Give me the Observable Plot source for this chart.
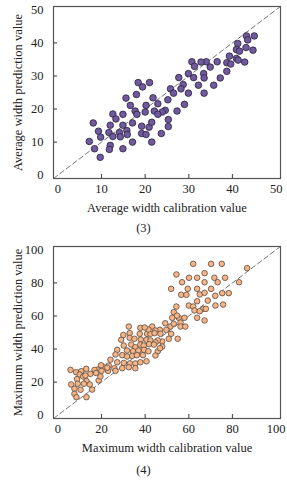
<!DOCTYPE html>
<html><head><meta charset="utf-8">
<script src="https://cdn.jsdelivr.net/npm/d3@7"></script>
<script src="https://cdn.jsdelivr.net/npm/@observablehq/plot@0.6"></script>
<style>
body{margin:0;background:#fff;font-family:"Liberation Serif","Times New Roman",serif;}
#wrap{position:relative;width:287px;height:480px;overflow:hidden;}
.panel{position:absolute;left:0;}
.cap{position:absolute;left:0;width:287px;text-align:center;font-size:12.5px;line-height:14px;color:#222;}
</style></head>
<body><div id="wrap"></div>
<script>
// (3) Average width
const avgCal  = [45.0,43.2,43.5,41.2,43.1,44.7,40.9,41.6,39.3,40.9,41.3,42.8,38.7,39.6,36.5,38.7,37.2,35.7,34.0,32.8,34.9,30.7,31.3,33.4,33.5,29.9,31.1,27.7,32.2,28.7,28.2,25.8,26.5,29.9,33.5,25.2,21.8,22.9,29.0,24.6,22.1,23.9,22.9,27.3,18.4,19.4,21.0,18.0,15.6,16.6,20.2,17.7,18.1,20.0,12.6,13.3,14.9,8.1,12.0,14.9,17.1,19.2,20.9,21.5,25.3,25.3,9.3,11.7,12.6,14.1,14.3,15.8,15.9,19.2,20.2,23.7,7.2,9.8,17.1,21.5,8.4,12.0,11.8,14.9,9.7];
const avgPred = [42.1,42.1,40.9,39.8,38.6,37.8,38.0,37.5,36.0,35.3,34.8,34.2,34.0,33.6,34.3,31.4,29.4,27.2,34.3,34.2,32.7,34.3,32.9,30.7,29.4,30.7,29.5,29.5,27.2,27.4,26.1,26.1,24.8,24.8,24.8,22.8,23.4,21.6,21.4,19.6,19.4,19.1,18.4,19.4,28.0,26.7,28.0,24.4,23.3,21.1,21.1,19.4,18.4,19.1,18.5,17.0,18.4,15.8,15.1,15.1,15.8,14.8,14.5,16.0,16.8,14.7,13.3,12.9,11.7,12.9,11.6,13.5,12.3,12.6,12.3,12.6,10.2,11.5,10.0,10.0,8.0,9.0,7.8,8.0,5.4];
const avgTicks = [0,10,20,30,40,50];

// (4) Maximum width
const maxCal  = [62.0,70.2,75.1,86.7,54.3,67.2,60.1,63.8,71.7,76.6,56.9,67.2,73.2,83.0,51.9,59.5,63.8,70.2,75.3,78.3,56.5,58.9,65.0,67.2,72.1,63.8,68.7,72.2,75.7,60.0,62.0,54.3,66.6,62.6,65.0,67.8,53.1,52.4,55.4,58.0,63.8,67.2,56.2,51.6,56.2,58.4,49.7,46.7,50.8,54.9,43.2,44.7,54.6,49.2,53.1,51.9,47.0,47.8,47.8,
  37.8,32.9,37.5,40.9,42.4,44.3,41.5,45.8,32.9,35.1,38.0,40.6,42.4,44.7,29.0,30.2,33.6,35.5,37.8,39.3,41.8,44.0,27.2,31.7,34.4,36.9,39.5,41.5,45.8,46.8,44.7,26.4,29.5,31.7,34.1,36.2,39.0,40.6,24.1,27.2,30.2,33.0,35.5,37.8,23.3,21.0,25.9,29.5,32.5,35.5,18.4,20.0,23.0,26.4,32.5,30.0,39.8,
  5.8,8.4,10.7,13.0,10.0,11.6,8.8,14.9,16.8,19.8,22.6,18.7,19.5,13.1,6.1,9.1,11.9,14.6,7.6,10.4,15.7,7.6,8.5,13.1,12.6,17.5];
const maxPred = [91.5,91.5,91.5,88.9,85.1,85.9,83.1,83.1,83.1,83.1,80.4,80.4,80.4,80.4,76.4,76.4,76.4,76.4,73.8,73.8,72.8,72.8,73.0,74.0,72.2,68.9,69.3,66.3,66.9,66.3,65.7,65.7,64.3,63.3,62.9,64.3,62.3,58.9,58.9,58.9,58.9,57.3,56.0,53.6,53.6,53.6,51.6,51.6,46.2,46.2,53.6,51.2,60.2,55.6,55.3,49.2,49.2,44.6,41.5,
  52.8,49.6,49.2,49.2,49.2,49.6,51.8,45.2,46.8,46.2,45.8,45.6,45.2,44.0,45.6,42.1,42.7,41.1,42.7,42.1,43.0,42.7,39.5,39.1,38.7,39.1,39.5,38.7,38.7,40.5,36.1,36.7,36.3,35.5,35.9,36.3,36.3,32.6,33.5,32.0,31.6,31.3,31.3,32.0,30.0,29.0,28.4,28.4,29.0,28.4,27.6,26.8,26.8,26.8,53.6,48.5,53.0,
  27.4,26.0,26.6,28.0,24.6,23.4,21.8,25.0,27.4,30.2,28.7,21.0,23.4,20.6,18.6,19.0,19.0,18.6,16.0,15.4,15.5,12.9,10.9,10.9,24.0,25.5];
const maxTicks = [0,20,40,60,80,100];

function scatter({cal, pred, domain, ticks, xLabel, yLabel, fill, stroke, r}) {
  const idx = d3.range(cal.length);
  const [lo, hi] = domain;
  const tY = (hi - lo) * 4 / 171, tX = (hi - lo) * 4 / 227;
  const inner = ticks.slice(1, -1);
  return Plot.plot({
    width: 287, height: 217,
    marginLeft: 53, marginRight: 7, marginTop: 6, marginBottom: 39,
    style: {fontFamily: "'Liberation Serif','Times New Roman',serif", fontSize: "12px", color: "#222", background: "white"},
    x: {domain, ticks},
    y: {domain, ticks},
    marks: [
      Plot.line([[lo, lo], [hi, hi]], {stroke: "#777", strokeDasharray: "5,3", strokeWidth: 1}),
      Plot.dot(idx, {x: i => cal[i], y: i => pred[i], r, fill, stroke, strokeWidth: 0.8}),
      Plot.ruleX(inner, {y1: lo, y2: lo + tY, stroke: "#555", strokeWidth: 1.2}),
      Plot.ruleY(inner, {x1: lo, x2: lo + tX, stroke: "#555", strokeWidth: 1.2}),
      Plot.axisX({ticks, tickSize: 0, tickPadding: 6, label: xLabel, labelAnchor: "center", labelArrow: "none", labelOffset: 33, fontSize: 12.5}),
      Plot.axisY({ticks, tickSize: 0, tickPadding: 10, label: yLabel, labelAnchor: "center", labelArrow: "none", labelOffset: 40, fontSize: 12.5}),
      Plot.frame({stroke: "#555", strokeWidth: 1.2})
    ]
  });
}

const wrap = document.getElementById("wrap");
const p1 = scatter({cal: avgCal, pred: avgPred, domain: [-1, 51], ticks: avgTicks,
  xLabel: "Average width calibration value", yLabel: "Average width prediction value",
  fill: "#6f5a9e", stroke: "#2a213d", r: 3.3});
p1.classList.add("panel"); p1.style.top = "0px";
wrap.appendChild(p1);
const c1 = document.createElement("div"); c1.className = "cap"; c1.style.top = "221px"; c1.textContent = "(3)";
wrap.appendChild(c1);

const p2 = scatter({cal: maxCal, pred: maxPred, domain: [-2, 102], ticks: maxTicks,
  xLabel: "Maximum width calibration value", yLabel: "Maximum width prediction value",
  fill: "#f5b487", stroke: "#5a4a3e", r: 2.8});
p2.classList.add("panel"); p2.style.top = "240px";
wrap.appendChild(p2);
const c2 = document.createElement("div"); c2.className = "cap"; c2.style.top = "463px"; c2.textContent = "(4)";
wrap.appendChild(c2);
</script>
</body></html>
